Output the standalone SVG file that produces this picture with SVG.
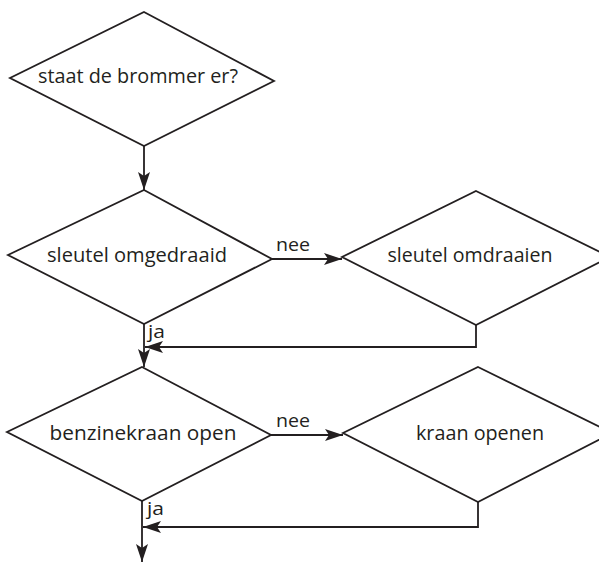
<svg xmlns="http://www.w3.org/2000/svg" width="599" height="562" viewBox="0 0 599 562">
  <style>
    .shape { fill: #ffffff; stroke: #231f20; stroke-width: 1.8; stroke-linejoin: miter; }
    .wire { fill: none; stroke: #231f20; stroke-width: 1.8; marker-end: url(#arrow); }
    .lbl { font-family: "Open Sans", "Noto Sans", "DejaVu Sans", sans-serif; font-size: 20px; fill: #231f20; }
    .tag { font-size: 18px; }
    .mid { text-anchor: middle; }
  </style>
  <defs>
    <marker id="arrow" viewBox="0 0 18 12" refX="18" refY="6" markerWidth="18" markerHeight="12" markerUnits="userSpaceOnUse" orient="auto">
      <path d="M0,0 L18,6 L0,12 L4,6 z" fill="#231f20"/>
    </marker>
  </defs>
  <rect width="599" height="562" fill="#ffffff"/>

  <g id="connectors">
    <path class="wire" d="M144,146 V190"/>
    <path class="wire" d="M272,259 H342"/>
    <path class="wire" d="M476,325 V347 H145"/>
    <path class="wire" d="M144,324 V367"/>
    <path class="wire" d="M271,435 H343"/>
    <path class="wire" d="M478,502 V527 H143"/>
    <path class="wire" d="M142,501 V562"/>
    <text class="lbl tag" x="276" y="251" textLength="34" lengthAdjust="spacingAndGlyphs">nee</text>
    <text class="lbl tag" x="148" y="338" textLength="17" lengthAdjust="spacingAndGlyphs">ja</text>
    <text class="lbl tag" x="276" y="427" textLength="34" lengthAdjust="spacingAndGlyphs">nee</text>
    <text class="lbl tag" x="147" y="515" textLength="17" lengthAdjust="spacingAndGlyphs">ja</text>
  </g>

  <g id="brommer">
    <polygon class="shape" points="144,12 274,81 144,146 10,78"/>
    <text class="lbl mid" x="138" y="83" textLength="200" lengthAdjust="spacingAndGlyphs">staat de brommer er?</text>
  </g>

  <g id="sleutel-check">
    <polygon class="shape" points="144,190 272,259 144,324 8,255"/>
    <text class="lbl mid" x="137" y="262" textLength="180" lengthAdjust="spacingAndGlyphs">sleutel omgedraaid</text>
  </g>

  <g id="sleutel-omdraaien">
    <polygon class="shape" points="476,191 610,257 476,325 342,257"/>
    <text class="lbl mid" x="470" y="262" textLength="165" lengthAdjust="spacingAndGlyphs">sleutel omdraaien</text>
  </g>

  <g id="benzine-check">
    <polygon class="shape" points="142,367 271,435 142,501 7,432"/>
    <text class="lbl mid" x="143" y="440" textLength="187" lengthAdjust="spacingAndGlyphs">benzinekraan open</text>
  </g>

  <g id="kraan-openen">
    <polygon class="shape" points="478,367 612,433 478,502 343,433"/>
    <text class="lbl mid" x="480" y="440" textLength="128" lengthAdjust="spacingAndGlyphs">kraan openen</text>
  </g>
</svg>
